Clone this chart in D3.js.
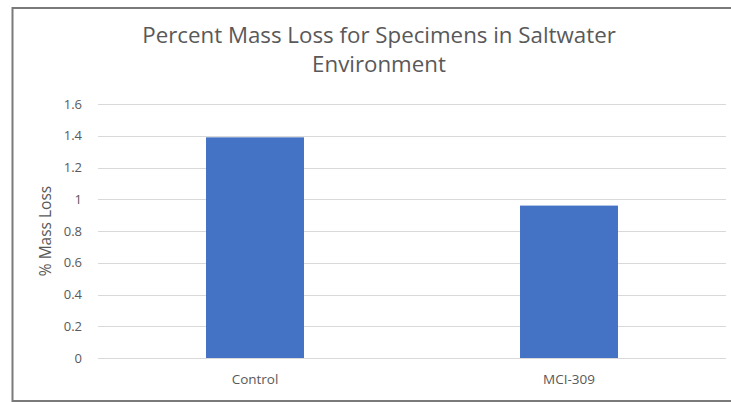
<!DOCTYPE html>
<html><head><meta charset="utf-8">
<script src="https://cdn.jsdelivr.net/npm/d3@7"></script>
<style>html,body{margin:0;padding:0;background:#fff;overflow:hidden;}svg{display:block;}</style>
</head><body>
<svg id="chart" width="731" height="402"></svg>
<script>
const categories = ["Control", "MCI-309"];
const values = [1.39, 0.96];
const yTicks = [0, 0.2, 0.4, 0.6, 0.8, 1, 1.2, 1.4, 1.6];
const titleLines = ["Percent Mass Loss for Specimens in Saltwater", "Environment"];
const yTitle = "% Mass Loss";

const svg = d3.select("#chart");
const W = 731, H = 402;
const m = {left: 98, right: 5, top: 104, bottom: 44};
const font = "'Open Sans', Lato, sans-serif";
const textCol = "#595959";

// chart frame (left, top, bottom edges; right edge lies outside the picture)
svg.append("path")
  .attr("d", `M${W},8 H12.5 V401 H${W}`)
  .attr("fill", "none").attr("stroke", "#7a7a7a").attr("stroke-width", 2);

const x = d3.scaleBand().domain(categories).range([m.left, W - m.right])
  .paddingInner(0.688).paddingOuter(0.344);
const y = d3.scaleLinear().domain([0, 1.6]).range([H - m.bottom, m.top]);

// gridlines
svg.append("g").selectAll("line").data(yTicks).join("line")
  .attr("x1", m.left).attr("x2", W - m.right)
  .attr("y1", d => Math.round(y(d)) + 0.5).attr("y2", d => Math.round(y(d)) + 0.5)
  .attr("stroke", "#d9d9d9").attr("stroke-width", 1);

// y axis labels
const yAxis = d3.axisLeft(y).tickValues(yTicks).tickSize(0).tickPadding(0)
  .tickFormat(d => d3.format("~g")(d));
const gy = svg.append("g").attr("transform", `translate(${m.left - 16},0)`).call(yAxis);
gy.select(".domain").remove();
gy.selectAll("text").attr("fill", textCol).style("font-family", font).style("font-size", "13px");

// bars
svg.append("g").selectAll("rect").data(values).join("rect")
  .attr("x", (d, i) => x(categories[i])).attr("width", x.bandwidth())
  .attr("y", d => y(d)).attr("height", d => y(0) - y(d))
  .attr("fill", "#4472C4");

// x axis labels
const xAxis = d3.axisBottom(x).tickSize(0).tickPadding(16);
const gx = svg.append("g").attr("transform", `translate(0,${y(0)})`).call(xAxis);
gx.select(".domain").remove();
gx.selectAll("text").attr("fill", textCol).style("font-family", font).style("font-size", "13.5px");

// title
svg.append("g").selectAll("text").data(titleLines).join("text")
  .attr("x", 379).attr("y", (d, i) => 43 + i * 29)
  .attr("text-anchor", "middle").attr("fill", textCol)
  .style("font-family", font).style("font-size", "22.3px").text(d => d);

// y title
svg.append("text").attr("transform", `translate(51,${(y(0) + y(1.6)) / 2}) rotate(-90)`)
  .attr("text-anchor", "middle").attr("fill", textCol)
  .style("font-family", font).style("font-size", "15.5px").text(yTitle);
</script>
</body></html>
